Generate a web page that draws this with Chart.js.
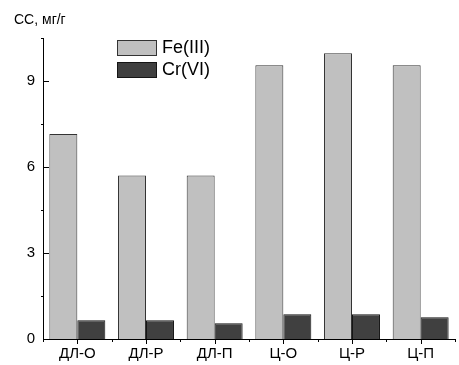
<!DOCTYPE html>
<html>
<head>
<meta charset="utf-8">
<script src="https://cdn.jsdelivr.net/npm/chart.js@4/dist/chart.umd.min.js"></script>
<style>
html,body{margin:0;padding:0;background:#fff;}
canvas{display:block;}
</style>
</head>
<body>
<canvas id="c" width="459" height="365"></canvas>
<script>
const categories = ["ДЛ-О", "ДЛ-Р", "ДЛ-П", "Ц-О", "Ц-Р", "Ц-П"];
const feValues = [7.15, 5.7, 5.7, 9.55, 9.97, 9.55];
const crValues = [0.65, 0.65, 0.55, 0.86, 0.86, 0.76];
const yTickLabels = [0, 3, 6, 9];
const yMinorTicks = [1.5, 4.5, 7.5, 10.5];
const seriesNames = ["Fe(III)", "Cr(VI)"];
const yTitle = "СС, мг/г";

const FONT = "'Liberation Sans', Arial, sans-serif";

const axesPlugin = {
  id: 'axesPlugin',
  afterDraw(chart) {
    const ctx = chart.ctx;
    const x = chart.scales.x, y = chart.scales.y;
    const ca = chart.chartArea;
    ctx.save();
    ctx.strokeStyle = '#000';
    ctx.lineWidth = 1;
    ctx.beginPath();
    ctx.moveTo(ca.left + 0.5, ca.top);
    ctx.lineTo(ca.left + 0.5, ca.bottom + 0.5);
    ctx.lineTo(ca.right, ca.bottom + 0.5);
    ctx.stroke();
    ctx.beginPath();
    yTickLabels.forEach(v => {
      if (v === 0) return;
      const py = Math.round(y.getPixelForValue(v)) + 0.5;
      ctx.moveTo(ca.left, py); ctx.lineTo(ca.left + 6, py);
    });
    yMinorTicks.forEach(v => {
      const py = Math.round(y.getPixelForValue(v)) + 0.5;
      ctx.moveTo(ca.left - 2, py); ctx.lineTo(ca.left + 1, py);
    });
    categories.forEach((c, i) => {
      const px = Math.round(x.getPixelForValue(i)) + 0.5;
      ctx.moveTo(px, ca.bottom); ctx.lineTo(px, ca.bottom + 5);
    });
    for (let i = 0; i <= categories.length; i++) {
      const px = Math.round(x.getPixelForValue(i - 0.5)) + 0.5;
      ctx.moveTo(px, ca.bottom); ctx.lineTo(px, ca.bottom + 3);
    }
    ctx.stroke();
    ctx.fillStyle = '#000';
    ctx.font = '14px ' + FONT;
    ctx.textBaseline = 'middle';
    ctx.textAlign = 'left';
    ctx.fillText(yTitle, 14, 20);
    const ds = chart.data.datasets;
    ctx.font = '18px ' + FONT;
    ds.forEach((d, i) => {
      const bx = 117.5, by = 40.5 + i * 22;
      ctx.fillStyle = d.backgroundColor;
      ctx.fillRect(bx, by, 39, 15);
      ctx.strokeStyle = d.borderColor;
      ctx.strokeRect(bx, by, 39, 15);
      ctx.fillStyle = '#000';
      ctx.fillText(d.label, 162, by + 8);
    });
    ctx.restore();
  }
};

new Chart(document.getElementById('c'), {
  type: 'bar',
  data: {
    labels: categories,
    datasets: [
      { label: seriesNames[0], data: feValues, backgroundColor: '#c0c0c0', borderColor: '#333333', borderWidth: 1, categoryPercentage: 0.815, barPercentage: 1 },
      { label: seriesNames[1], data: crValues, backgroundColor: '#404040', borderColor: '#151515', borderWidth: 1, categoryPercentage: 0.815, barPercentage: 1 }
    ]
  },
  options: {
    responsive: false,
    animation: false,
    devicePixelRatio: 1,
    layout: { padding: { left: 0, right: 4, top: 38, bottom: 0 } },
    plugins: { legend: { display: false }, tooltip: { enabled: false } },
    scales: {
      x: {
        grid: { display: false, drawTicks: false },
        border: { display: false },
        ticks: { color: '#000', font: { family: FONT, size: 15 }, padding: 6, maxRotation: 0 },
        afterFit(s) { s.height = 26; }
      },
      y: {
        min: 0, max: 10.5,
        grid: { display: false, drawTicks: false },
        border: { display: false },
        ticks: { stepSize: 3, color: '#000', font: { family: FONT, size: 15 }, padding: 8 },
        afterBuildTicks(s) { s.ticks = yTickLabels.map(v => ({ value: v })); },
        afterFit(s) { s.width = 43; }
      }
    }
  },
  plugins: [axesPlugin]
});
</script>
</body>
</html>
